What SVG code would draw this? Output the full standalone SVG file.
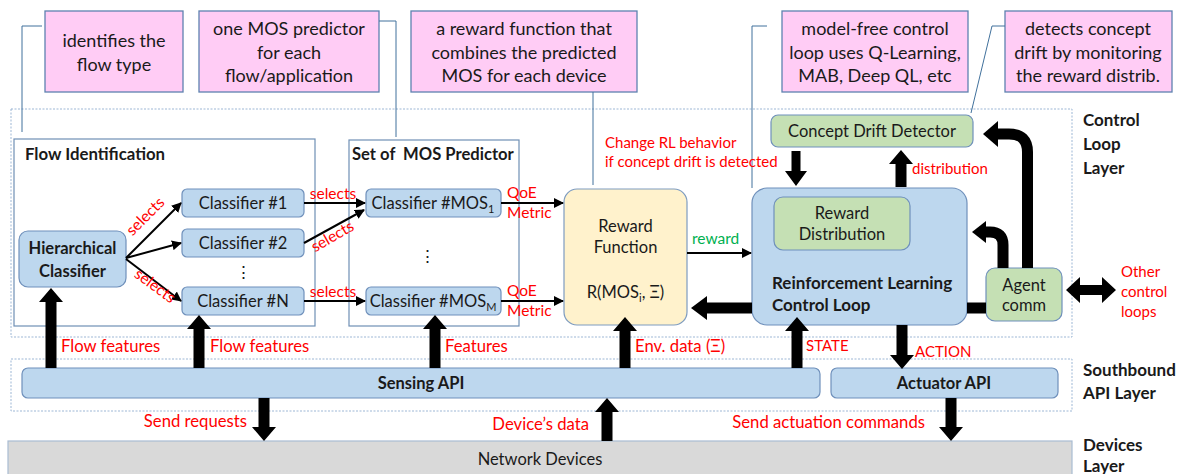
<svg xmlns="http://www.w3.org/2000/svg" width="1182" height="474" viewBox="0 0 1182 474">
  <style>
    text { font-family: Lato, "Noto Sans", "Liberation Sans", sans-serif; fill: #1a1a1a; }
    .note { fill: #FFCCF5; stroke: #5E82B0; stroke-width: 1.3; }
    .note-t { font-size: 18px; text-anchor: middle; }
    .layer { fill: none; stroke: #9DB7D5; stroke-width: 1; stroke-dasharray: 2 1.5; }
    .group { fill: #fff; stroke: #6F8FB5; stroke-width: 1.2; }
    .blue { fill: #BDD7EE; stroke: #6F90BB; stroke-width: 1.2; }
    .green { fill: #C5E0B4; stroke: #6F90BB; stroke-width: 1.2; }
    .yellow { fill: #FFF2CC; stroke: #7E9CC0; stroke-width: 1.2; }
    .grey { fill: #D9D9D9; stroke: #A9BCD2; stroke-width: 1.2; }
    .lbl { font-size: 16.5px; text-anchor: middle; }
    .bold { font-weight: bold; }
    .red { fill: #FF0000; font-size: 15px; }
    .big { font-size: 16.7px; }
    .sel { fill: #FF0000; font-size: 15.5px; }
    .layer-t { font-size: 17px; font-weight: bold; }
    .leader { fill: none; stroke: #41719C; stroke-width: 1; }
    .thin { fill: none; stroke: #000; stroke-width: 2; marker-end: url(#ah); }
    .thick { fill: #000; }
    .bend { fill: none; stroke: #000; stroke-width: 11; }
  </style>
  <defs>
    <marker id="ah" viewBox="0 0 10 10" refX="9" refY="5" markerWidth="5" markerHeight="5" orient="auto" markerUnits="strokeWidth">
      <path d="M0,0 L10,5 L0,10 Z" fill="#000"/>
    </marker>
  </defs>

  <!-- layer frames -->
  <rect class="layer" x="11" y="109" width="1061" height="228"/>
  <rect class="layer" x="11" y="359" width="1061" height="52"/>

  <!-- annotation notes -->
  <g id="note-flow">
    <rect class="note" x="45" y="11" width="138" height="81"/>
    <text class="note-t" x="114" y="47">identifies the</text>
    <text class="note-t" x="114" y="71">flow type</text>
  </g>
  <g id="note-mos">
    <rect class="note" x="199" y="11" width="180" height="81"/>
    <text class="note-t" x="289" y="35">one MOS predictor</text>
    <text class="note-t" x="289" y="59">for each</text>
    <text class="note-t" x="289" y="82">flow/application</text>
  </g>
  <g id="note-reward">
    <rect class="note" x="411" y="11" width="226" height="81"/>
    <text class="note-t" x="524" y="35">a reward function that</text>
    <text class="note-t" x="524" y="59">combines the predicted</text>
    <text class="note-t" x="524" y="82">MOS for each device</text>
  </g>
  <g id="note-loop">
    <rect class="note" x="782" y="11" width="186" height="81"/>
    <text class="note-t" x="875" y="35">model-free control</text>
    <text class="note-t" x="875" y="59">loop uses Q-Learning,</text>
    <text class="note-t" x="875" y="82">MAB, Deep QL, etc</text>
  </g>
  <g id="note-drift">
    <rect class="note" x="1005" y="11" width="167" height="81"/>
    <text class="note-t" x="1088" y="35">detects concept</text>
    <text class="note-t" x="1088" y="59">drift by monitoring</text>
    <text class="note-t" x="1088" y="82">the reward distrib.</text>
  </g>

  <!-- group frames -->
  <g id="flow-identification">
    <rect class="group" x="14" y="139" width="301" height="187"/>
    <text class="bold" x="25" y="160" font-size="16.8px">Flow Identification</text>
  </g>
  <g id="mos-predictors">
    <rect class="group" x="349" y="140" width="170" height="186"/>
    <text class="bold" x="352" y="160" font-size="16.6px" xml:space="preserve">Set of  MOS Predictor</text>
  </g>

  <!-- nodes -->
  <g id="hierarchical-classifier">
    <rect class="blue" x="19" y="231" width="107" height="56" rx="9"/>
    <text class="lbl bold" x="72.5" y="254" font-size="17.5px">Hierarchical</text>
    <text class="lbl bold" x="72.5" y="277" font-size="17.5px">Classifier</text>
  </g>
  <g id="classifier-1">
    <rect class="blue" x="182" y="189" width="122" height="28" rx="5"/>
    <text class="lbl" x="243" y="209">Classifier #1</text>
  </g>
  <g id="classifier-2">
    <rect class="blue" x="182" y="229" width="122" height="28" rx="5"/>
    <text class="lbl" x="243" y="249">Classifier #2</text>
  </g>
  <text class="lbl" x="243" y="278">⋮</text>
  <g id="classifier-n">
    <rect class="blue" x="182" y="287" width="122" height="28" rx="5"/>
    <text class="lbl" x="243" y="307">Classifier #N</text>
  </g>
  <g id="classifier-mos-1">
    <rect class="blue" x="366" y="189" width="135" height="28" rx="5"/>
    <text class="lbl" x="433" y="209">Classifier #MOS<tspan font-size="11px" dy="4">1</tspan></text>
  </g>
  <text class="lbl" x="427" y="262">⋮</text>
  <g id="classifier-mos-m">
    <rect class="blue" x="366" y="287" width="135" height="28" rx="5"/>
    <text class="lbl" x="433" y="307">Classifier #MOS<tspan font-size="11px" dy="4">M</tspan></text>
  </g>
  <g id="reward-function">
    <rect class="yellow" x="564" y="189" width="123" height="136" rx="13"/>
    <text class="lbl" x="625.5" y="232" font-size="17.4px">Reward</text>
    <text class="lbl" x="625.5" y="253" font-size="17.4px">Function</text>
    <text class="lbl" x="625.5" y="298" font-size="17.4px">R(MOS<tspan font-size="11px" dy="4">i</tspan><tspan dy="-4">, Ξ)</tspan></text>
  </g>
  <g id="concept-drift-detector">
    <rect class="green" x="771" y="115" width="202" height="32" rx="7"/>
    <text class="lbl" x="872" y="137">Concept Drift Detector</text>
  </g>
  <g id="rl-control-loop">
    <rect class="blue" x="752" y="188" width="215" height="137" rx="15"/>
    <text class="bold" x="772" y="289" font-size="17px">Reinforcement Learning</text>
    <text class="bold" x="772" y="311" font-size="17px">Control Loop</text>
  </g>
  <g id="reward-distribution">
    <rect class="green" x="774" y="197" width="136" height="53" rx="9"/>
    <text class="lbl" x="842" y="219" font-size="16.8px">Reward</text>
    <text class="lbl" x="842" y="240" font-size="16.8px">Distribution</text>
  </g>
  <g id="agent-comm">
    <rect class="green" x="986" y="268" width="76" height="53" rx="9"/>
    <text class="lbl" x="1024" y="291">Agent</text>
    <text class="lbl" x="1024" y="311">comm</text>
  </g>
  <g id="sensing-api">
    <rect class="blue" x="22" y="368" width="798" height="30" rx="6"/>
    <text class="lbl bold" x="421" y="389">Sensing API</text>
  </g>
  <g id="actuator-api">
    <rect class="blue" x="831" y="368" width="227" height="30" rx="6"/>
    <text class="lbl bold" x="944" y="389">Actuator API</text>
  </g>
  <g id="network-devices">
    <rect class="grey" x="8" y="441" width="1064" height="40"/>
    <text class="lbl" x="540" y="465">Network Devices</text>
  </g>

  <!-- layer titles -->
  <text class="layer-t" x="1083" y="126">Control</text>
  <text class="layer-t" x="1083" y="150">Loop</text>
  <text class="layer-t" x="1083" y="174">Layer</text>
  <text class="layer-t" x="1083" y="376">Southbound</text>
  <text class="layer-t" x="1083" y="399">API Layer</text>
  <text class="layer-t" x="1083" y="451">Devices</text>
  <text class="layer-t" x="1083" y="472">Layer</text>

  <!-- connectors -->
  <g id="connectors">
    <!-- note leaders -->
    <path class="leader" d="M42,26 H22 V132"/>
    <path class="leader" d="M379,21 H396 V137"/>
    <path class="leader" d="M593,92 V185"/>
    <path class="leader" d="M767,26 H752 V188"/>
    <path class="leader" d="M1005,26 H992 L971,113"/>

    <!-- flow selection -->
    <path class="thin" d="M126,258 L181,203"/>
    <path class="thin" d="M126,258 L181,243"/>
    <path class="thin" d="M126,259 L181,301"/>
    <path class="thin" d="M304,203 L365,203"/>
    <path class="thin" d="M304,243 L364,210"/>
    <path class="thin" d="M304,301 L365,301"/>
    <path class="thin" d="M501,203 L563,203"/>
    <path class="thin" d="M501,301 L563,301"/>
    <path class="thin" d="M687,253 L751,253"/>

    <text class="sel" transform="translate(149,220) rotate(-45)" text-anchor="middle">selects</text>
    <text class="sel" transform="translate(152,290) rotate(36)" text-anchor="middle">selects</text>
    <text class="sel" x="333" y="199" text-anchor="middle">selects</text>
    <text class="sel" transform="translate(335,241) rotate(-30)" text-anchor="middle">selects</text>
    <text class="sel" x="333" y="297" text-anchor="middle">selects</text>

    <text class="sel" x="507" y="198">QoE</text>
    <text class="sel" x="507" y="218">Metric</text>
    <text class="sel" x="507" y="296">QoE</text>
    <text class="sel" x="507" y="316">Metric</text>
    <text x="692" y="244" font-size="15.5px" style="fill:#00B050">reward</text>

    <!-- thick vertical arrows from the sensing API -->
    <path class="thick" d="M45.5,368 V302 H39 L51,288 L63,302 H56.5 V368 Z"/>
    <path class="thick" d="M193.5,368 V329 H187 L199,315 L211,329 H204.5 V368 Z"/>
    <path class="thick" d="M429.5,368 V329 H423 L435,315 L447,329 H440.5 V368 Z"/>
    <path class="thick" d="M619.5,368 V331 H613 L625,317 L637,331 H630.5 V368 Z"/>
    <path class="thick" d="M791.5,368 V331 H785 L797,317 L809,331 H802.5 V368 Z"/>
    <!-- action down to actuator -->
    <path class="thick" d="M896.5,325 V355 H890 L902,369 L914,355 H907.5 V325 Z"/>
    <!-- southbound to devices -->
    <path class="thick" d="M258.5,398 V427 H252 L264,441 L276,427 H269.5 V398 Z"/>
    <path class="thick" d="M601.5,441 V412 H595 L607,398 L619,412 H612.5 V441 Z"/>
    <path class="thick" d="M945.5,398 V427 H939 L951,441 L963,427 H956.5 V398 Z"/>
    <!-- drift detector exchange -->
    <path class="thick" d="M791.5,151 V171 H785 L796,186 L807,171 H800.5 V151 Z"/>
    <path class="thick" d="M895.5,187 V164 H889 L901,150 L913,164 H906.5 V187 Z"/>
    <!-- RL back to reward function -->
    <path class="thick" d="M752,302.5 H707 V296 L691,308 L707,320 V313.5 H752 Z"/>
    <!-- RL to agent comm -->
    <rect class="thick" x="967" y="302.5" width="19" height="11"/>
    <!-- agent comm bends -->
    <path class="bend" d="M1027.5,268 V152 Q1027.5,134 1009,134 H996"/>
    <path class="thick" d="M998,121 L983,134 L998,147 Z"/>
    <path class="bend" stroke-width="10" d="M1003,268 V245 Q1003,232 990,232 H984"/>
    <path class="thick" d="M986,221 L972,232 L986,243 Z"/>
    <!-- other loops -->
    <path class="thick" d="M1066,290 L1080,277 V285 H1102 V277 L1116,290 L1102,303 V295 H1080 V303 Z"/>

    <!-- red annotations -->
    <text class="red" x="605" y="148" font-size="14.5px">Change RL behavior</text>
    <text class="red" x="605" y="167" font-size="14.5px">if concept drift is detected</text>
    <text class="red" x="912" y="174">distribution</text>
    <text class="red" x="1121" y="277">Other</text>
    <text class="red" x="1121" y="297">control</text>
    <text class="red" x="1121" y="317">loops</text>
    <text class="red big" x="61" y="352">Flow features</text>
    <text class="red big" x="210" y="352">Flow features</text>
    <text class="red big" x="445" y="352">Features</text>
    <text class="red big" x="635" y="352">Env. data (Ξ)</text>
    <text class="red" x="806" y="351">STATE</text>
    <text class="red" x="915" y="357">ACTION</text>
    <text class="red big" x="247" y="427" text-anchor="end">Send requests</text>
    <text class="red big" x="589" y="430" text-anchor="end">Device’s data</text>
    <text class="red big" x="925" y="428" text-anchor="end">Send actuation commands</text>
  </g>
</svg>
